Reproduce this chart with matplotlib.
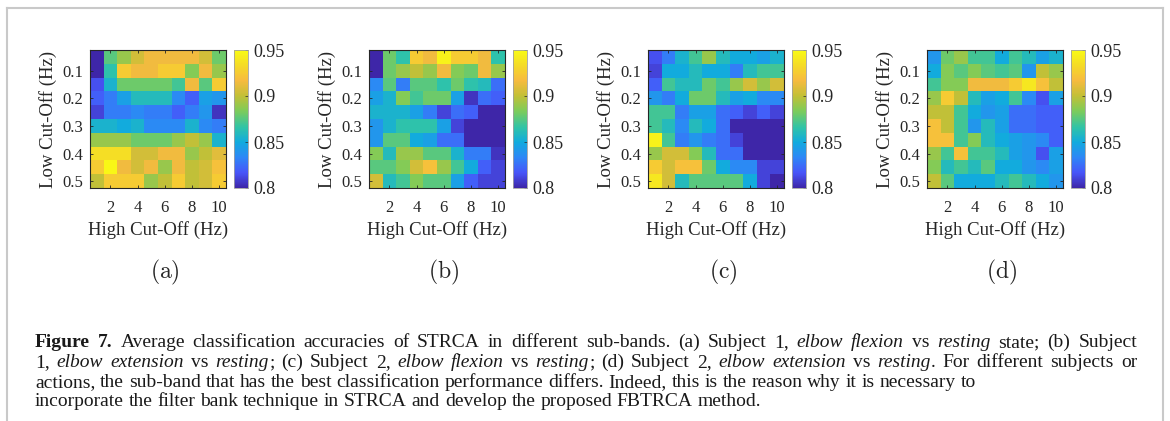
import numpy as np
import matplotlib
matplotlib.use("Agg")
import matplotlib.pyplot as plt
from matplotlib.colors import LinearSegmentedColormap
from matplotlib.lines import Line2D

# Figure size in pixels
W, H = 1170, 421

# Axes values
high_cut = [1, 2, 3, 4, 5, 6, 7, 8, 9, 10]
low_cut = [0.05, 0.10, 0.15, 0.20, 0.25, 0.30, 0.35, 0.40, 0.45, 0.50]
x_ticks = [2, 4, 6, 8, 10]
y_ticks = [0.1, 0.2, 0.3, 0.4, 0.5]
cbar_ticks = [0.8, 0.85, 0.9, 0.95]
cbar_labels = ["0.8", "0.85", "0.9", "0.95"]
VMIN, VMAX = 0.8, 0.95

# Average accuracies, rows = low cut-off, cols = high cut-off
acc_a = [
    [0.800, 0.875, 0.890, 0.905, 0.915, 0.915, 0.915, 0.915, 0.905, 0.880],
    [0.800, 0.865, 0.925, 0.915, 0.915, 0.925, 0.925, 0.885, 0.915, 0.890],
    [0.815, 0.855, 0.880, 0.880, 0.880, 0.880, 0.870, 0.915, 0.875, 0.925],
    [0.820, 0.830, 0.845, 0.860, 0.860, 0.860, 0.835, 0.820, 0.845, 0.840],
    [0.810, 0.830, 0.830, 0.835, 0.830, 0.830, 0.820, 0.830, 0.840, 0.805],
    [0.855, 0.855, 0.850, 0.855, 0.835, 0.835, 0.835, 0.855, 0.835, 0.830],
    [0.890, 0.890, 0.890, 0.880, 0.880, 0.880, 0.890, 0.900, 0.890, 0.855],
    [0.935, 0.935, 0.935, 0.905, 0.905, 0.915, 0.915, 0.890, 0.900, 0.910],
    [0.925, 0.948, 0.915, 0.905, 0.915, 0.890, 0.915, 0.900, 0.905, 0.920],
    [0.900, 0.925, 0.925, 0.925, 0.890, 0.900, 0.925, 0.900, 0.905, 0.925],
]
acc_b = [
    [0.800, 0.880, 0.865, 0.925, 0.915, 0.945, 0.925, 0.925, 0.915, 0.865],
    [0.800, 0.880, 0.890, 0.900, 0.890, 0.915, 0.885, 0.880, 0.915, 0.890],
    [0.835, 0.875, 0.830, 0.875, 0.875, 0.865, 0.880, 0.865, 0.860, 0.825],
    [0.845, 0.855, 0.885, 0.870, 0.880, 0.880, 0.845, 0.805, 0.825, 0.820],
    [0.855, 0.855, 0.855, 0.845, 0.830, 0.810, 0.825, 0.820, 0.800, 0.800],
    [0.840, 0.855, 0.865, 0.865, 0.865, 0.845, 0.810, 0.800, 0.800, 0.800],
    [0.840, 0.875, 0.875, 0.850, 0.845, 0.825, 0.825, 0.800, 0.800, 0.800],
    [0.885, 0.860, 0.890, 0.890, 0.875, 0.875, 0.855, 0.830, 0.830, 0.805],
    [0.875, 0.875, 0.885, 0.905, 0.920, 0.890, 0.870, 0.850, 0.820, 0.810],
    [0.905, 0.860, 0.870, 0.885, 0.875, 0.875, 0.845, 0.820, 0.810, 0.810],
]
acc_c = [
    [0.815, 0.830, 0.855, 0.870, 0.890, 0.860, 0.850, 0.850, 0.845, 0.855],
    [0.810, 0.850, 0.850, 0.860, 0.850, 0.850, 0.830, 0.860, 0.870, 0.870],
    [0.820, 0.870, 0.860, 0.860, 0.880, 0.870, 0.890, 0.905, 0.890, 0.905],
    [0.840, 0.830, 0.850, 0.880, 0.880, 0.860, 0.845, 0.850, 0.835, 0.835],
    [0.870, 0.870, 0.830, 0.845, 0.845, 0.825, 0.820, 0.810, 0.820, 0.810],
    [0.870, 0.860, 0.835, 0.860, 0.850, 0.825, 0.800, 0.800, 0.800, 0.800],
    [0.945, 0.870, 0.830, 0.840, 0.830, 0.825, 0.810, 0.800, 0.800, 0.800],
    [0.890, 0.905, 0.905, 0.885, 0.860, 0.825, 0.825, 0.800, 0.800, 0.800],
    [0.925, 0.905, 0.920, 0.920, 0.880, 0.850, 0.835, 0.835, 0.810, 0.810],
    [0.940, 0.905, 0.860, 0.875, 0.875, 0.875, 0.875, 0.850, 0.810, 0.800],
]
acc_d = [
    [0.840, 0.880, 0.890, 0.870, 0.870, 0.850, 0.870, 0.860, 0.845, 0.855],
    [0.850, 0.885, 0.875, 0.885, 0.875, 0.870, 0.875, 0.840, 0.900, 0.890],
    [0.870, 0.885, 0.885, 0.915, 0.915, 0.915, 0.925, 0.940, 0.920, 0.900],
    [0.890, 0.925, 0.900, 0.860, 0.845, 0.850, 0.870, 0.835, 0.815, 0.845],
    [0.900, 0.900, 0.870, 0.850, 0.840, 0.845, 0.825, 0.825, 0.820, 0.820],
    [0.920, 0.900, 0.870, 0.840, 0.860, 0.845, 0.825, 0.825, 0.820, 0.820],
    [0.920, 0.920, 0.870, 0.885, 0.860, 0.850, 0.845, 0.840, 0.835, 0.820],
    [0.890, 0.870, 0.920, 0.870, 0.870, 0.860, 0.845, 0.840, 0.815, 0.845],
    [0.885, 0.860, 0.870, 0.860, 0.875, 0.850, 0.850, 0.840, 0.835, 0.845],
    [0.900, 0.875, 0.850, 0.850, 0.850, 0.860, 0.870, 0.860, 0.850, 0.840],
]
panels = [acc_a, acc_b, acc_c, acc_d]
panel_labels = ["(a)", "(b)", "(c)", "(d)"]

caption_lines = [
    "<b>Figure 7.</b> Average classification accuracies of STRCA in different sub-bands. "
    "(a) Subject 1, <i>elbow flexion</i> vs <i>resting</i> state; (b) Subject",
    "1, <i>elbow extension</i> vs <i>resting</i>; (c) Subject 2, <i>elbow flexion</i> vs "
    "<i>resting</i>; (d) Subject 2, <i>elbow extension</i> vs <i>resting</i>. For different subjects or",
    "actions, the sub-band that has the best classification performance differs. "
    "Indeed, this is the reason why it is necessary to",
    "incorporate the filter bank technique in STRCA and develop the proposed FBTRCA method.",
]
caption_justify = [True, True, False, False]

# approximate MATLAB parula
parula = LinearSegmentedColormap.from_list("parula", [
    (0.00, (0.2422, 0.1504, 0.6603)),
    (0.11, (0.2803, 0.3330, 0.9769)),
    (0.22, (0.1801, 0.5275, 0.9667)),
    (0.33, (0.0680, 0.6690, 0.8720)),
    (0.44, (0.1900, 0.7670, 0.6530)),
    (0.56, (0.4960, 0.7980, 0.3490)),
    (0.67, (0.7660, 0.7520, 0.2140)),
    (0.78, (0.9670, 0.7320, 0.2490)),
    (0.89, (0.9600, 0.8580, 0.1520)),
    (1.00, (0.9769, 0.9839, 0.0805)),
])

plt.rcParams["font.family"] = ["Liberation Serif", "DejaVu Serif"]
plt.rcParams["mathtext.fontset"] = "cm"

fig = plt.figure(figsize=(W / 100, H / 100), dpi=100)


def px_axes(x0, y0, x1, y1):
    return fig.add_axes([x0 / W, 1 - y1 / H, (x1 - x0) / W, (y1 - y0) / H])


# light gray frame
frame = dict(color="#c9c9c9", lw=1.5, transform=fig.transFigure)
fig.add_artist(Line2D([7 / W, 1163 / W], [1 - 8 / H, 1 - 8 / H], **frame))
fig.add_artist(Line2D([7 / W, 7 / W], [1 - 8 / H, 0], **frame))
fig.add_artist(Line2D([1163 / W, 1163 / W], [1 - 8 / H, 0], **frame))

x_edges = np.arange(len(high_cut) + 1) + 0.5
y_edges = np.append(np.array(low_cut) - 0.025, low_cut[-1] + 0.025)
dark = "#262626"

heat_left = [90, 369, 648, 927]
for left, acc, lab in zip(heat_left, panels, panel_labels):
    ax = px_axes(left, 50, left + 136, 188)
    mesh = ax.pcolormesh(x_edges, y_edges, np.array(acc), cmap=parula,
                         vmin=VMIN, vmax=VMAX)
    ax.set_xlim(x_edges[0], x_edges[-1])
    ax.set_ylim(y_edges[-1], y_edges[0])
    ax.set_xticks(x_ticks)
    ax.set_yticks(y_ticks)
    ax.set_xticklabels([str(t) for t in x_ticks])
    ax.set_yticklabels([f"{t:.1f}" for t in y_ticks])
    ax.tick_params(direction="in", top=True, right=True, length=2.5, width=0.6,
                   color=dark, labelsize=12, labelcolor=dark)
    ax.tick_params(axis="x", pad=9)
    ax.tick_params(axis="y", pad=5)
    for s in ax.spines.values():
        s.set_color(dark)
        s.set_linewidth(0.8)
    ax.set_xlabel("High Cut-Off (Hz)", fontsize=13.5, color=dark, labelpad=3)
    ax.set_ylabel("Low Cut-Off (Hz)", fontsize=13.5, color=dark, labelpad=4)

    cax = px_axes(left + 144, 50, left + 158, 188)
    cb = fig.colorbar(mesh, cax=cax, ticks=cbar_ticks)
    cb.ax.set_yticklabels(cbar_labels)
    cb.ax.tick_params(direction="in", length=2.5, width=0.5, color=dark,
                      labelsize=13, labelcolor=dark, pad=4)
    cb.outline.set_edgecolor("#a0a0a0")
    cb.outline.set_linewidth(0.6)

    fig.text((left + 75) / W, 1 - 272 / H, r"$\mathrm{" + lab + "}$",
             fontsize=17, ha="center", va="center", color=dark)


# caption with simple bold/italic markup and justification
def parse_words(line):
    runs = []
    style = "n"
    i = 0
    buf = ""
    while i < len(line):
        for tag, st in (("<b>", "b"), ("</b>", "n"), ("<i>", "i"), ("</i>", "n")):
            if line.startswith(tag, i):
                if buf:
                    runs.append((buf, style))
                buf = ""
                style = st
                i += len(tag)
                break
        else:
            buf += line[i]
            i += 1
    if buf:
        runs.append((buf, style))
    words = [[]]
    for text, st in runs:
        parts = text.split(" ")
        for k, p in enumerate(parts):
            if k > 0:
                words.append([])
            if p:
                words[-1].append((p, st))
    return [w for w in words if w]


renderer = fig.canvas.get_renderer()
CAP_X0, CAP_X1 = 35, 1137
CAP_SIZE = 14
cap_base = [347, 367, 387, 406]

space = fig.text(0, 0, "a b", fontsize=CAP_SIZE)
a_only = fig.text(0, 0, "ab", fontsize=CAP_SIZE)
nat_space = space.get_window_extent(renderer).width - a_only.get_window_extent(renderer).width
space.remove()
a_only.remove()

for line, just, yb in zip(caption_lines, caption_justify, cap_base):
    words = parse_words(line)
    items = []
    widths = []
    for word in words:
        pieces = []
        wsum = 0.0
        for text, st in word:
            t = fig.text(0, 1 - yb / H, text, fontsize=CAP_SIZE, color="#1a1a1a",
                         ha="left", va="baseline",
                         fontweight="bold" if st == "b" else "normal",
                         fontstyle="italic" if st == "i" else "normal")
            w = t.get_window_extent(renderer).width
            pieces.append((t, wsum))
            wsum += w
        items.append(pieces)
        widths.append(wsum)
    sp = nat_space
    if just and len(words) > 1:
        sp = (CAP_X1 - CAP_X0 - sum(widths)) / (len(words) - 1)
    x = CAP_X0
    for pieces, w in zip(items, widths):
        for t, off in pieces:
            t.set_x((x + off) / W)
        x += w + sp

fig.savefig("out.png", dpi=100)
